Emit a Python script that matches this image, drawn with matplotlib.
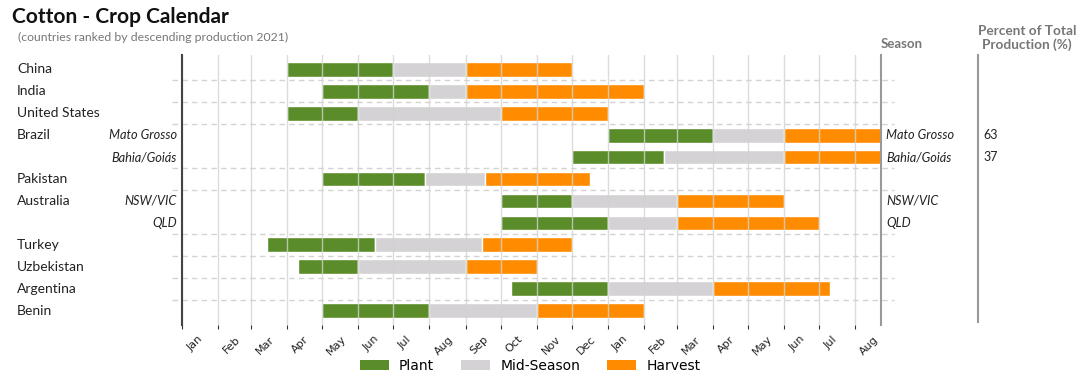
from datetime import datetime
import matplotlib
matplotlib.use("Agg")
import matplotlib.pyplot as plt
import matplotlib.dates as mdates
import matplotlib.transforms as mtransforms
from matplotlib.patches import Patch

# one row per bar, top to bottom
countries = ["China", "India", "United States", "Brazil", "", "Pakistan",
             "Australia", "", "Turkey", "Uzbekistan", "Argentina", "Benin"]
regions = ["", "", "", "Mato Grosso", "Bahia/Goiás", "", "NSW/VIC", "QLD",
           "", "", "", ""]
shares = ["", "", "", "63", "37", "", "", "", "", "", "", ""]

plant_start = ["2021-04-01", "2021-05-01", "2021-04-01", "2022-01-01", "2021-12-01",
               "2021-05-01", "2021-10-01", "2021-10-01", "2021-03-15", "2021-04-10",
               "2021-10-10", "2021-05-01"]
mid_start = ["2021-07-01", "2021-08-01", "2021-06-01", "2022-04-01", "2022-02-18",
             "2021-07-28", "2021-12-01", "2022-01-01", "2021-06-15", "2021-06-01",
             "2022-01-01", "2021-08-01"]
harvest_start = ["2021-09-01", "2021-09-01", "2021-10-01", "2022-06-01", "2022-06-01",
                 "2021-09-18", "2022-03-01", "2022-03-01", "2021-09-15", "2021-09-01",
                 "2022-04-01", "2021-11-01"]
harvest_end = ["2021-12-01", "2022-02-01", "2022-01-01", "2022-09-01", "2022-09-01",
               "2021-12-17", "2022-06-01", "2022-07-01", "2021-12-01", "2021-11-01",
               "2022-07-10", "2022-02-01"]

# dashed separators sit between these rows
group_breaks = [0.5, 1.5, 2.5, 4.5, 5.5, 7.5, 8.5, 9.5, 10.5]

phases = [("Plant", "#5b8c2a"), ("Mid-Season", "#d4d2d4"), ("Harvest", "#ff8c00")]

plt.rcParams["font.family"] = ["Lato", "DejaVu Sans"]


def num(s):
    return mdates.date2num(datetime.strptime(s, "%Y-%m-%d"))


fig = plt.figure(figsize=(10.8, 3.86), dpi=100)
ax = fig.add_axes([182 / 1080, 1 - 325 / 386, 699 / 1080, 270 / 386])

bounds = [plant_start, mid_start, harvest_start, harvest_end]
for k, (name, color) in enumerate(phases):
    left = [num(s) for s in bounds[k]]
    right = [num(s) for s in bounds[k + 1]]
    width = [r - l for l, r in zip(left, right)]
    ax.barh(range(len(countries)), width, left=left, height=0.68,
            color=color, edgecolor="white", linewidth=1, zorder=1)

ax.set_xlim(num("2021-01-01"), num("2022-08-23"))
ax.set_ylim(11.64, -0.64)

ax.xaxis.set_major_locator(mdates.MonthLocator())
ax.xaxis.set_major_formatter(mdates.DateFormatter("%b"))
ax.tick_params(axis="x", length=3, color="#333333", labelsize=8, labelcolor="#222222")
ax.tick_params(axis="y", left=False, labelleft=False)
shift = mtransforms.ScaledTranslation(3 / 100, 0, fig.dpi_scale_trans)
for lab in ax.get_xticklabels():
    lab.set_fontfamily("DejaVu Sans")
    lab.set_rotation(45)
    lab.set_ha("left")
    lab.set_transform(lab.get_transform() + shift)

ax.grid(axis="x", color="#d3d3d3", linewidth=1, alpha=0.8)

for side in ["top", "bottom"]:
    ax.spines[side].set_visible(False)
ax.spines["left"].set_color("#444444")
ax.spines["left"].set_linewidth(1.5)
ax.spines["right"].set_color("#999999")
ax.spines["right"].set_linewidth(1.5)

yt = ax.get_yaxis_transform()
for y in group_breaks:
    ax.plot([-0.0143, 1.0186], [y, y], transform=yt, clip_on=False,
            color="#d3d3d3", linewidth=1, linestyle=(0, (4, 3)), zorder=0)

# column line for the percentages
ax.plot([1.1388, 1.1388], [0.01, 1.0], transform=ax.transAxes, clip_on=False,
        color="#999999", linewidth=1.5)

for i in range(len(countries)):
    if countries[i]:
        ax.text(-0.236, i, countries[i], transform=yt, ha="left", va="center",
                fontsize=10, color="#222222")
    if regions[i]:
        ax.text(-0.007, i, regions[i], transform=yt, ha="right", va="center",
                fontsize=9.2, style="italic", color="#222222")
        ax.text(1.007, i, regions[i], transform=yt, ha="left", va="center",
                fontsize=9.2, style="italic", color="#222222")
    if shares[i]:
        ax.text(1.146, i, shares[i], transform=yt, ha="left", va="center",
                fontsize=9, color="#222222")

fig.text(12 / 1080, 1 - 17 / 386, "Cotton - Crop Calendar", fontsize=15,
         fontweight="bold", ha="left", va="center", color="#111111")
fig.text(18 / 1080, 1 - 37 / 386, "(countries ranked by descending production 2021)",
         fontsize=8.8, ha="left", va="center", color="#777777")
fig.text(881 / 1080, 1 - 44 / 386, "Season", fontsize=9.5, fontweight="bold",
         ha="left", va="center", color="#777777")
fig.text(1027 / 1080, 1 - 38 / 386, "Percent of Total\nProduction (%)", fontsize=9.8,
         fontweight="bold", ha="center", va="center", color="#777777",
         multialignment="center", linespacing=1.05)

handles = [Patch(facecolor=c, label=n) for n, c in phases]
fig.legend(handles=handles, loc="center", bbox_to_anchor=(530 / 1080, 1 - 366 / 386),
           ncol=3, frameon=False, prop={"family": "DejaVu Sans", "size": 10},
           handlelength=2.1, handleheight=0.72, columnspacing=1.95, handletextpad=0.72)

fig.savefig("out.png", dpi=100)
